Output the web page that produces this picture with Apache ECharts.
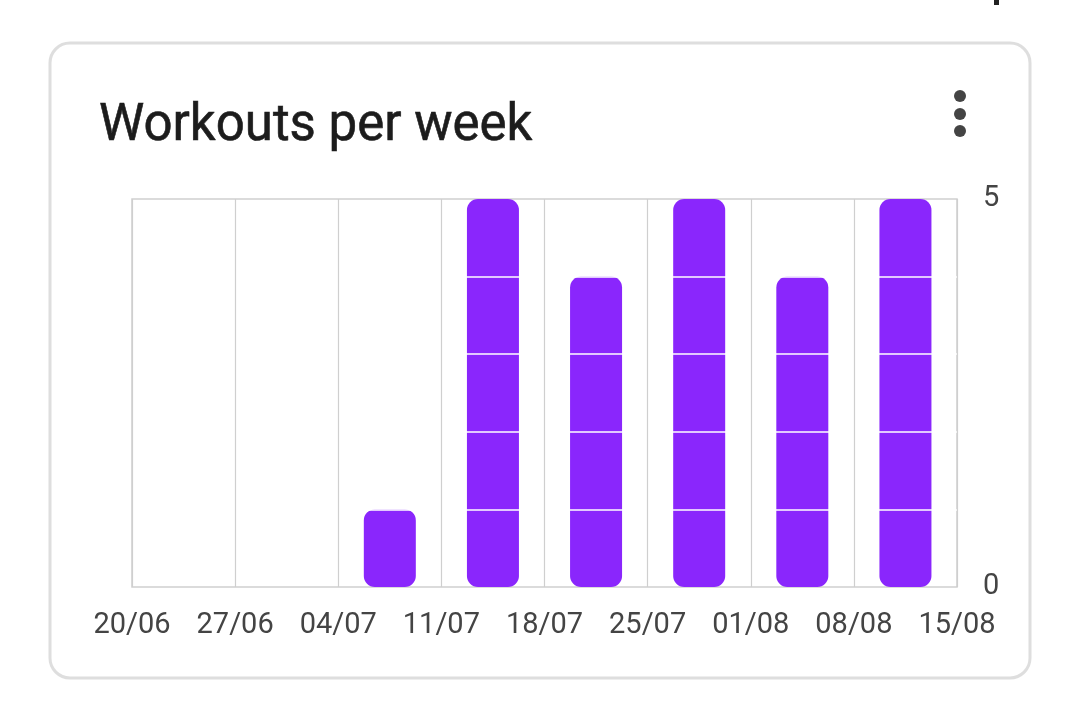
<!DOCTYPE html>
<html>
<head>
<meta charset="utf-8">
<script src="https://cdn.jsdelivr.net/npm/echarts@6/dist/echarts.min.js"></script>
<style>
html,body{margin:0;padding:0;background:#fff;}
#chart{width:1080px;height:715px;}
</style>
</head>
<body>
<div id="chart"></div>
<script>
const weekLabels = ['20/06','27/06','04/07','11/07','18/07','25/07','01/08','08/08','15/08'];
const workouts = [0, 0, 1, 5, 4, 5, 4, 5];
const yTickLabels = [0, 5];

const chart = echarts.init(document.getElementById('chart'), null, {renderer: 'canvas'});
const barData = workouts.map((v, i) => [i + 0.5, v]);

chart.setOption({
  animation: false,
  backgroundColor: '#fff',
  title: {
    text: 'Workouts per week',
    left: 94,
    top: 97,
    textStyle: {fontFamily: 'Roboto', fontSize: 51, fontWeight: 'normal', color: '#1c1c1c', textBorderColor: '#1c1c1c', textBorderWidth: 0.6}
  },
  grid: {
    left: 132, right: 123, top: 199, bottom: 128,
    show: true, borderColor: '#cfcfcf', borderWidth: 1.5, backgroundColor: 'transparent'
  },
  xAxis: {
    type: 'value', min: 0, max: 8, interval: 1, z: 6,
    axisLine: {show: false}, axisTick: {show: false},
    splitLine: {show: true, lineStyle: {color: '#cfcfcf', width: 1.2}},
    axisLabel: {
      margin: 24, fontFamily: 'Roboto', fontSize: 29, color: '#444',
      formatter: v => weekLabels[v] || ''
    }
  },
  yAxis: {
    type: 'value', position: 'right', min: 0, max: 5, interval: 1, z: 5,
    axisLine: {show: false}, axisTick: {show: false},
    splitLine: {show: true, showMinLine: false, showMaxLine: false, lineStyle: {color: '#ffffff', width: 1.5}},
    axisLabel: {
      margin: 26, fontFamily: 'Roboto', fontSize: 29, color: '#444',
      formatter: v => yTickLabels.indexOf(v) >= 0 ? String(v) : ''
    }
  },
  series: [{
    type: 'bar',
    data: barData,
    barWidth: 52,
    itemStyle: {color: '#8a26fc', borderRadius: 11}
  }],
  graphic: [
    {type: 'rect', z: -1, shape: {x: 50, y: 43, width: 980, height: 635, r: 20}, style: {fill: 'none', stroke: '#dedede', lineWidth: 3}},
    {type: 'circle', shape: {cx: 960, cy: 96, r: 6}, style: {fill: '#444'}},
    {type: 'circle', shape: {cx: 960, cy: 114, r: 6}, style: {fill: '#444'}},
    {type: 'circle', shape: {cx: 960, cy: 131, r: 6}, style: {fill: '#444'}},
    {type: 'rect', shape: {x: 994, y: 0, width: 5, height: 5}, style: {fill: '#222'}}
  ]
});
</script>
</body>
</html>
